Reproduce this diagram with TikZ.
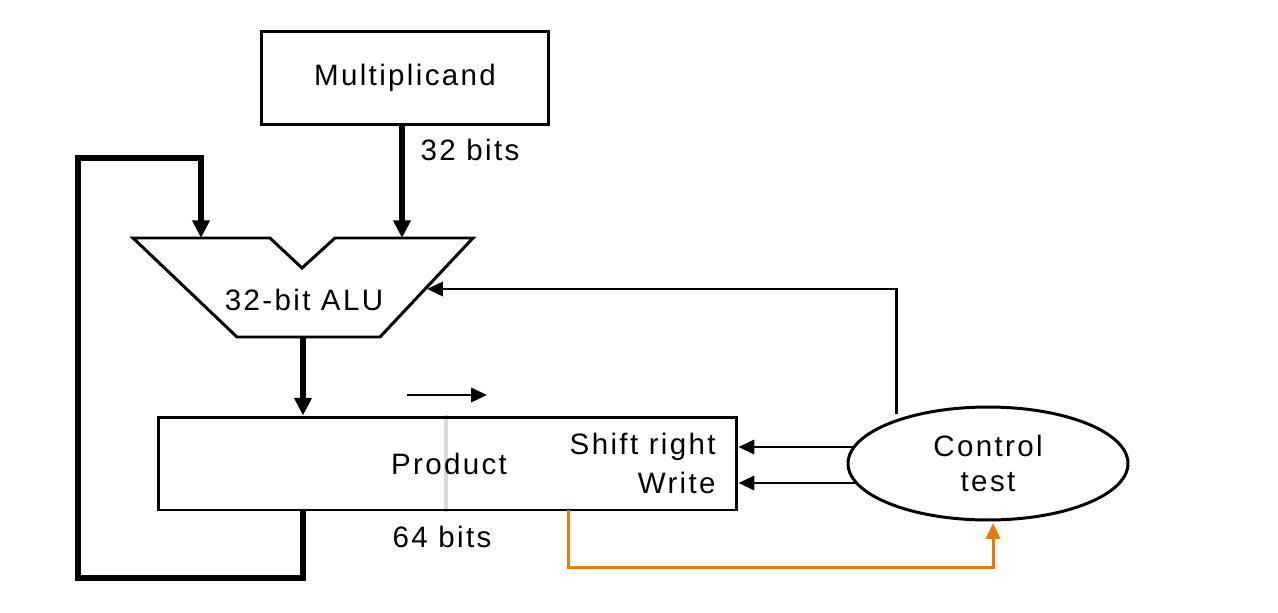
\documentclass[tikz,border=0pt]{standalone}
\usepackage{fontspec}
\setmainfont{Liberation Sans}[LetterSpace=8]
\usetikzlibrary{arrows.meta,shapes.geometric,calc}
\definecolor{flagorange}{RGB}{232,122,10}
\tikzset{
    unit box/.style={
        draw, line width=1.7pt, inner sep=0pt
    },
    bus/.style={
        line width=3.2pt,
        -{Triangle[length=10pt,width=9.5pt]}
    },
    signal/.style={
        line width=1.7pt,
        -{Triangle[length=9pt,width=8pt]}
    },
    txt/.style={
        font=\fontsize{16.8}{19.5}\selectfont, inner sep=0pt
    }
}

\begin{document}
\begin{tikzpicture}[x=0.02cm, y=-0.02cm]
    \useasboundingbox (0,0) rectangle (1278,612);
    % corner points of the alu outline
    \coordinate (A1) at (133,238);
    \coordinate (A2) at (270,238);
    \coordinate (A3) at (302,268);
    \coordinate (A4) at (335,238);
    \coordinate (A5) at (473,238);
    \coordinate (A6) at (380,337);
    \coordinate (A7) at (237,337);

    \node[unit box, txt, minimum width=5.76cm, minimum height=1.88cm] (mcand) at (405,78) {Multiplicand};

    \draw[line width=1.7pt, line join=miter] (A1) -- (A2) -- (A3) -- (A4) -- (A5) -- (A6) -- (A7) -- cycle;
    \node[txt] (alu) at (304,300) {32-bit ALU};

    \draw[gray!30, line width=2.6pt] (446,415) -- (446,512);
    \node[unit box, minimum width=11.58cm, minimum height=1.86cm] (prod) at (447.5,463.5) {};
    \node[txt] (prodlbl) at (449,464) {Product};
    \node[txt, anchor=east] (shift) at (716,447) {Shift right};
    \node[txt, anchor=east] (write) at (716,483) {Write};

    \node[draw, ellipse, line width=1.7pt, minimum width=5.6cm, minimum height=2.26cm,
          txt, align=center] (ctrl) at (988,463.5) {Control\\test};

    % data paths
    \coordinate (mtop) at (402,238);
    \draw[bus] (mcand.south -| mtop) -- (mtop);
    \node[txt] (mbits) at (470,150) {32 bits};

    \coordinate (ftop) at (201,238);
    \coordinate (aout) at (303,337);
    \draw[bus] (aout) -- (aout |- prod.north);
    \draw[bus, line join=miter] (aout |- prod.south) -- (303,578) -- (78,578) -- (78,158) -- (201,158) -- (ftop);
    \node[txt] (pbits) at (442,537) {64 bits};

    \coordinate (sh1) at (407,395);
    \coordinate (sh2) at (487,395);
    \draw[signal] (sh1) -- (sh2);

    % control lines
    \coordinate (aluin) at (427,289);
    \draw[signal, line join=miter] (ctrl.north -| 896,0) ++(0,8) -- (896,289) -- (aluin);
    \draw[signal] (ctrl.west |- shift) ++(8,0) -- (prod.east |- shift);
    \draw[signal] (ctrl.west |- write) ++(8,0) -- (prod.east |- write);

    \coordinate (tbit) at (568,510);
    \draw[signal, flagorange, line join=miter] (tbit) -- (568,567) -- (993,567) -- (993,523);
\end{tikzpicture}
\end{document}
